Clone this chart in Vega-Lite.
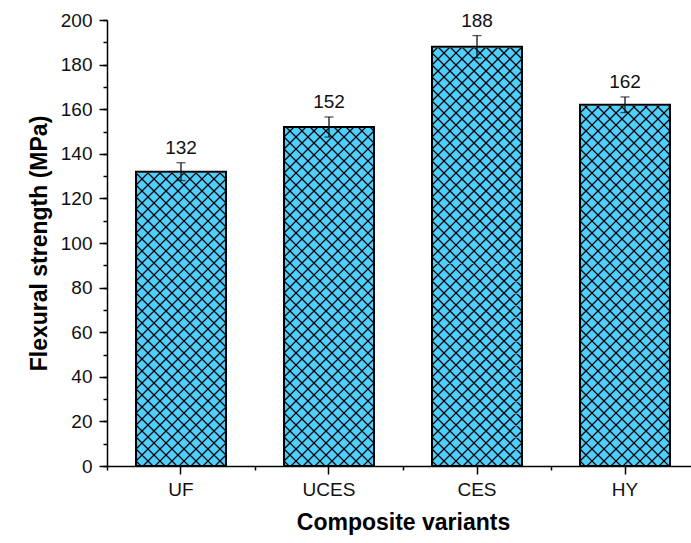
{
  "$schema": "https://vega.github.io/schema/vega-lite/v6.json",
  "width": 584,
  "height": 446,
  "autosize": {"type": "none"},
  "padding": {"left": 107, "top": 20, "right": 0, "bottom": 77},
  "background": "white",
  "config": {"view": {"stroke": null}, "font": "Liberation Sans"},
  "data": {
    "values": [
      {"variant": "UF", "strength": 132, "lower": 128, "upper": 136},
      {"variant": "UCES", "strength": 152, "lower": 147.5, "upper": 156.5},
      {"variant": "CES", "strength": 188, "lower": 183, "upper": 193},
      {"variant": "HY", "strength": 162, "lower": 158.5, "upper": 165.5}
    ]
  },
  "resolve": {"axis": {"x": "independent", "y": "independent"}},
  "layer": [
    {
      "mark": {"type": "bar", "fill": "#4dd0ff", "stroke": null},
      "encoding": {
        "x": {
          "field": "variant", "type": "nominal", "sort": ["UF", "UCES", "CES", "HY"],
          "scale": {"range": [0, 592], "paddingInner": 0.392, "paddingOuter": 0.196},
          "axis": {
            "orient": "bottom", "title": "Composite variants", "labelAngle": 0,
            "labelFontSize": 19, "labelColor": "#111", "labelPadding": 6,
            "tickSize": 8, "tickWidth": 1.5, "tickColor": "black",
            "domainColor": "black", "domainWidth": 1.5, "grid": false,
            "titleFontSize": 23, "titleFontWeight": "bold", "titleColor": "black", "titlePadding": 12
          }
        },
        "y": {
          "field": "strength", "type": "quantitative",
          "scale": {"domain": [0, 200], "nice": false},
          "axis": {
            "orient": "left", "title": "Flexural strength (MPa)",
            "values": [0, 20, 40, 60, 80, 100, 120, 140, 160, 180, 200],
            "labelFontSize": 19, "labelColor": "#111", "labelPadding": 7,
            "tickSize": 8, "tickWidth": 1.5, "tickColor": "black",
            "domainColor": "black", "domainWidth": 1.5, "grid": false,
            "titleFontSize": 23, "titleFontWeight": "bold", "titleColor": "black", "titlePadding": 9
          }
        }
      }
    },
    {
      "mark": {
        "type": "point", "filled": false, "size": 4, "stroke": "black", "strokeWidth": 1.3, "opacity": 1, "clip": true,
        "shape": "M-45,230L45,140L-45,50L45,-40L-45,-130L45,-220L-45,-310L45,-400M-45,242L45,152L-45,62L45,-28L-45,-118L45,-208L-45,-298L45,-388M-45,254L45,164L-45,74L45,-16L-45,-106L45,-196L-45,-286L45,-376M-45,266L45,176L-45,86L45,-4L-45,-94L45,-184L-45,-274L45,-364M-45,278L45,188L-45,98L45,8L-45,-82L45,-172L-45,-262L45,-352M-45,290L45,200L-45,110L45,20L-45,-70L45,-160L-45,-250L45,-340M-45,302L45,212L-45,122L45,32L-45,-58L45,-148L-45,-238L45,-328M-45,314L45,224L-45,134L45,44L-45,-46L45,-136L-45,-226L45,-316M-45,326L45,236L-45,146L45,56L-45,-34L45,-124L-45,-214L45,-304M-45,338L45,248L-45,158L45,68L-45,-22L45,-112L-45,-202L45,-292M-45,350L45,260L-45,170L45,80L-45,-10L45,-100L-45,-190L45,-280M-45,362L45,272L-45,182L45,92L-45,2L45,-88L-45,-178L45,-268M-45,374L45,284L-45,194L45,104L-45,14L45,-76L-45,-166L45,-256M-45,386L45,296L-45,206L45,116L-45,26L45,-64L-45,-154L45,-244M-45,398L45,308L-45,218L45,128L-45,38L45,-52L-45,-142L45,-232"
      },
      "encoding": {
        "x": {"field": "variant", "type": "nominal", "sort": ["UF", "UCES", "CES", "HY"], "axis": null},
        "y": {"datum": 100, "type": "quantitative", "axis": null}
      }
    },
    {
      "mark": {"type": "bar", "fill": "white", "stroke": "white", "strokeWidth": 2},
      "encoding": {
        "x": {"field": "variant", "type": "nominal", "sort": ["UF", "UCES", "CES", "HY"], "axis": null},
        "y": {"field": "strength", "type": "quantitative", "axis": null},
        "y2": {"datum": 200}
      }
    },
    {
      "mark": {"type": "bar", "fill": "transparent", "stroke": "black", "strokeWidth": 2},
      "encoding": {
        "x": {
          "field": "variant", "type": "nominal", "sort": ["UF", "UCES", "CES", "HY"],
          "axis": {
            "orient": "bottom", "title": null, "labels": false, "domain": false, "grid": false,
            "tickOffset": -74, "tickSize": 4, "tickWidth": 1.5, "tickColor": "black"
          }
        },
        "y": {
          "field": "strength", "type": "quantitative",
          "axis": {
            "orient": "left", "title": null, "labels": false, "domain": false, "grid": false,
            "values": [0, 10, 20, 30, 40, 50, 60, 70, 80, 90, 100, 110, 120, 130, 140, 150, 160, 170, 180, 190, 200],
            "tickSize": 4, "tickWidth": 1.5, "tickColor": "black"
          }
        }
      }
    },
    {
      "mark": {"type": "rule", "color": "#111", "strokeWidth": 1.3},
      "encoding": {
        "x": {"field": "variant", "type": "nominal", "sort": ["UF", "UCES", "CES", "HY"], "axis": null},
        "y": {"field": "lower", "type": "quantitative", "axis": null},
        "y2": {"field": "upper"}
      }
    },
    {
      "mark": {"type": "tick", "color": "#111", "size": 9, "thickness": 1.3, "orient": "horizontal"},
      "encoding": {
        "x": {"field": "variant", "type": "nominal", "sort": ["UF", "UCES", "CES", "HY"], "axis": null},
        "y": {"field": "lower", "type": "quantitative", "axis": null}
      }
    },
    {
      "mark": {"type": "tick", "color": "#111", "size": 9, "thickness": 1.3, "orient": "horizontal"},
      "encoding": {
        "x": {"field": "variant", "type": "nominal", "sort": ["UF", "UCES", "CES", "HY"], "axis": null},
        "y": {"field": "upper", "type": "quantitative", "axis": null}
      }
    },
    {
      "mark": {"type": "text", "fontSize": 19, "color": "#111", "baseline": "alphabetic", "dy": -9},
      "encoding": {
        "x": {"field": "variant", "type": "nominal", "sort": ["UF", "UCES", "CES", "HY"], "axis": null},
        "y": {"field": "upper", "type": "quantitative", "axis": null},
        "text": {"field": "strength", "type": "quantitative"}
      }
    }
  ]
}
